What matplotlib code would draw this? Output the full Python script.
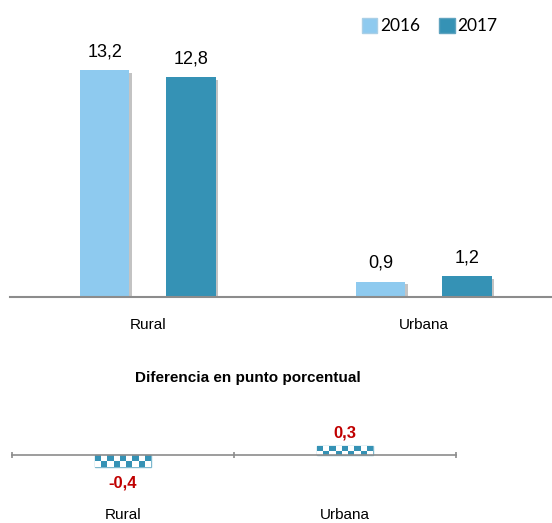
import numpy as np
import matplotlib
matplotlib.use("Agg")
import matplotlib.pyplot as plt
import matplotlib.patheffects as pe
from matplotlib.patches import Patch

# datos
zonas = ["Rural", "Urbana"]
anios = ["2016", "2017"]
val_2016 = [13.2, 0.9]
val_2017 = [12.8, 1.2]
diferencia = [-0.4, 0.3]

c16 = "#8ECAEF"
c17 = "#3592B5"
gris = "#8C8C8C"
rojo = "#C00000"

plt.rcParams['font.family'] = ['Liberation Sans', 'DejaVu Sans']

def fmt(v):
    return ("%.1f" % v).replace(".", ",")

fig = plt.figure(figsize=(5.52, 5.23), dpi=100)

# grafico superior
ax = fig.add_axes([0.018, 0.432, 0.982, 0.493])
x = np.arange(len(zonas))
w = 0.178
sombra = [pe.SimplePatchShadow(offset=(2, -2), shadow_rgbFace="#555555", alpha=0.35), pe.Normal()]
b1 = ax.bar(x - 0.156, val_2016, w, color=c16, path_effects=sombra)
b2 = ax.bar(x + 0.156, val_2017, w, color=c17, path_effects=sombra)
for barras in (b1, b2):
    for r in barras:
        ax.annotate(fmt(r.get_height()), (r.get_x() + r.get_width() / 2, r.get_height()),
                    xytext=(0, 7), textcoords="offset points", ha="center", va="bottom",
                    fontsize=13)
ax.set_xlim(-0.5, 1.464)
ax.set_ylim(0, 15)
for s in ["top", "right", "left"]:
    ax.spines[s].set_visible(False)
ax.spines["bottom"].set_color(gris)
ax.spines["bottom"].set_linewidth(1.5)
ax.set_yticks([])
ax.set_xticks(x)
ax.set_xticklabels(zonas, fontsize=11)
ax.tick_params(axis="x", length=0, pad=15)

fig.legend(handles=[Patch(facecolor=c16, edgecolor="#A9CFE6"), Patch(facecolor=c17, edgecolor="#5FA3BF")],
           labels=anios, loc="upper left", bbox_to_anchor=(0.627, 0.995), ncol=2, frameon=False,
           prop={"family": "Lato", "size": 12.5}, handlelength=0.9, handleheight=0.9,
           handletextpad=0.15, columnspacing=1.1)

# grafico inferior
fig.text(0.449, 0.277, "Diferencia en punto porcentual", ha="center", va="center",
         fontsize=11, fontweight="bold")

ax2 = fig.add_axes([0.0217, 0.044, 0.804, 0.143])
bd = ax2.bar(x, diferencia, 0.25, color="white", edgecolor="#7DB8CE", linewidth=1)
tablero = matplotlib.colors.ListedColormap(["white", c17])
for r in bd:
    x0, ww = r.get_x(), r.get_width()
    ylo = min(r.get_y(), r.get_y() + r.get_height())
    yhi = max(r.get_y(), r.get_y() + r.get_height())
    patron = (np.add.outer(np.arange(2), np.arange(9)) % 2).astype(float)
    im = ax2.imshow(patron, extent=(x0, x0 + ww, ylo, yhi), origin="lower", aspect="auto",
                    cmap=tablero, interpolation="nearest", zorder=2)
    im.set_clip_path(r)
    v = r.get_y() + r.get_height() if r.get_y() == 0 else r.get_y()
    if v >= 0:
        ax2.annotate(fmt(v), (x0 + ww / 2, yhi), xytext=(0, 4), textcoords="offset points",
                     ha="center", va="bottom", fontsize=12, fontweight="bold", color=rojo)
    else:
        ax2.annotate(fmt(v), (x0 + ww / 2, ylo), xytext=(0, -6), textcoords="offset points",
                     ha="center", va="top", fontsize=12, fontweight="bold", color=rojo)
ax2.set_xlim(-0.5, 1.5)
ax2.set_ylim(-1.5, 1.0)
for s in ["top", "right", "left"]:
    ax2.spines[s].set_visible(False)
ax2.spines["bottom"].set_position(("data", 0))
ax2.spines["bottom"].set_color(gris)
ax2.spines["bottom"].set_linewidth(1.2)
ax2.set_yticks([])
ax2.set_xticks(x)
ax2.set_xticklabels(zonas, fontsize=11)
ax2.tick_params(axis="x", which="major", length=0, pad=38)
ax2.set_xticks([-0.5, 0.5, 1.5], minor=True)
ax2.tick_params(axis="x", which="minor", length=5, width=1.2, color=gris, direction="inout")

fig.savefig("out.png", dpi=100)
